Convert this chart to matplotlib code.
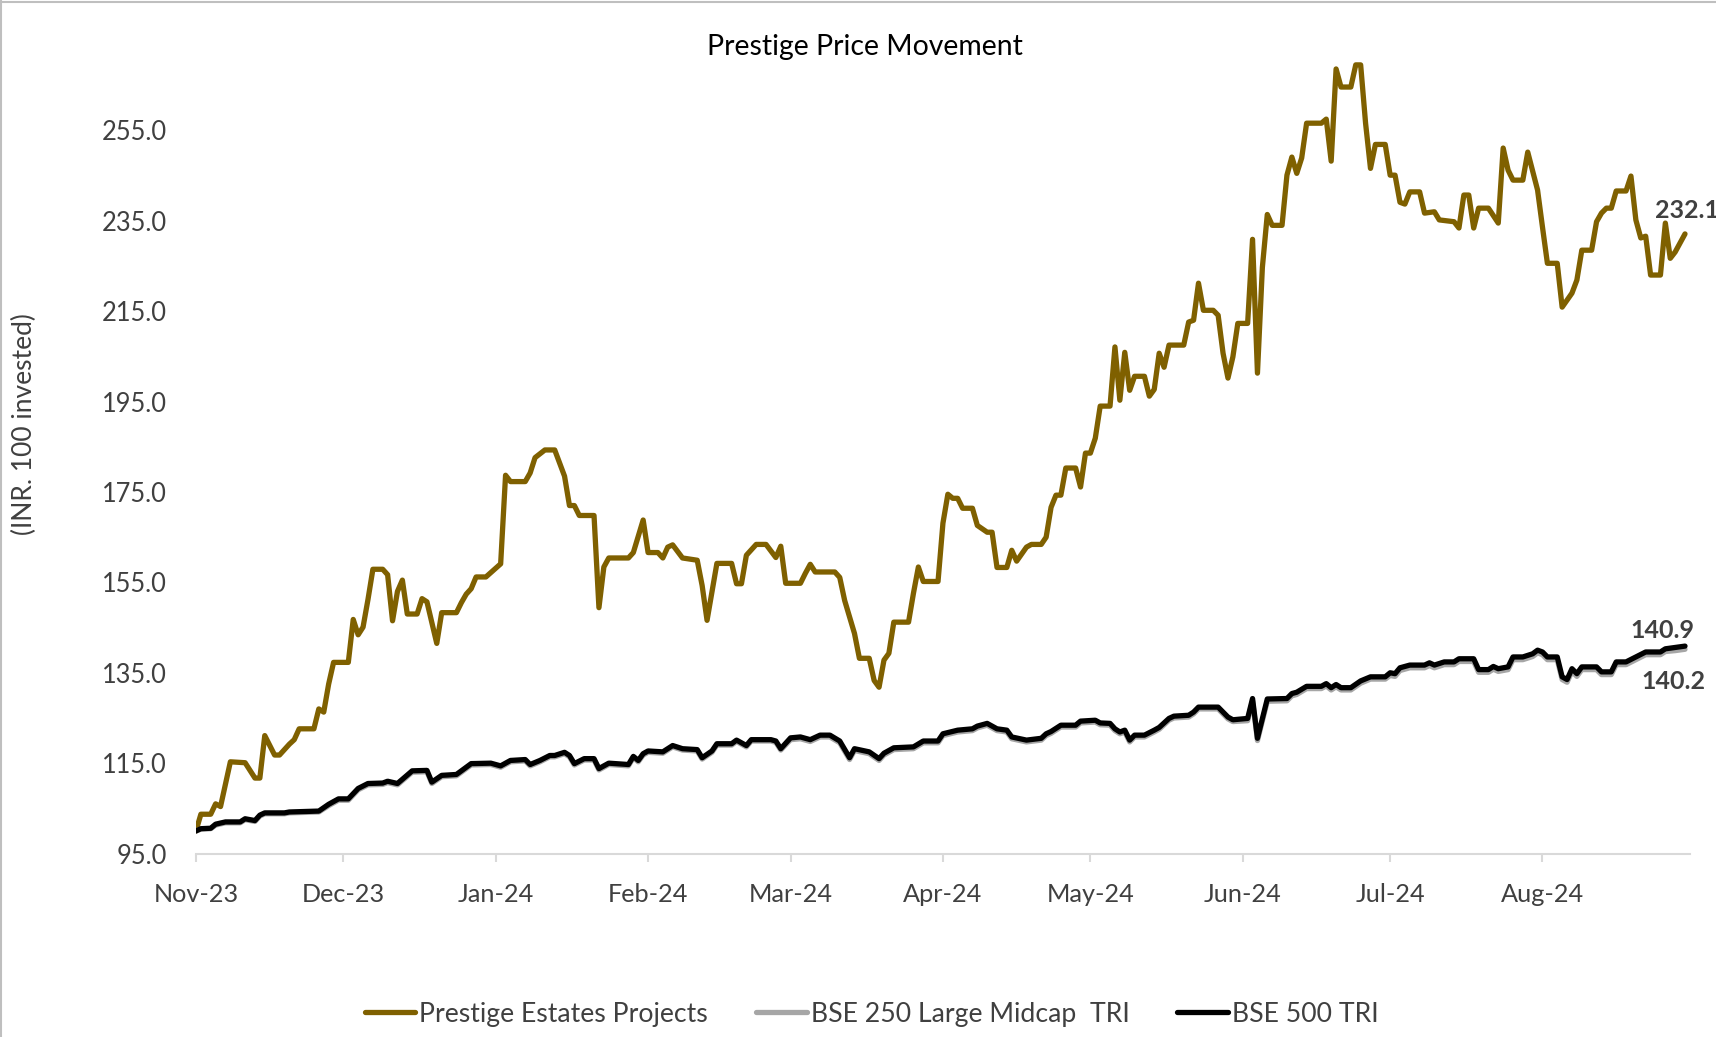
import matplotlib
matplotlib.use("Agg")
import matplotlib.pyplot as plt
import matplotlib.ticker as mticker
from matplotlib.lines import Line2D
import pandas as pd

plt.rcParams['font.family'] = ['Lato', 'DejaVu Sans']

# --- data (INR 100 invested) ---
prestige_dates = [
    "2023-11-01", "2023-11-02", "2023-11-04", "2023-11-05", "2023-11-06", "2023-11-08", "2023-11-11", "2023-11-13", "2023-11-14", "2023-11-15",
    "2023-11-17", "2023-11-18", "2023-11-20", "2023-11-21", "2023-11-22", "2023-11-25", "2023-11-26", "2023-11-27", "2023-11-28", "2023-11-29",
    "2023-12-02", "2023-12-03", "2023-12-04", "2023-12-05", "2023-12-06", "2023-12-07", "2023-12-09", "2023-12-10", "2023-12-11", "2023-12-12",
    "2023-12-13", "2023-12-14", "2023-12-16", "2023-12-17", "2023-12-18", "2023-12-20", "2023-12-21", "2023-12-24", "2023-12-25", "2023-12-26",
    "2023-12-27", "2023-12-28", "2023-12-30",
    "2024-01-02", "2024-01-03", "2024-01-04", "2024-01-07", "2024-01-08", "2024-01-09", "2024-01-11", "2024-01-13", "2024-01-15", "2024-01-16",
    "2024-01-17", "2024-01-18", "2024-01-21", "2024-01-22", "2024-01-23", "2024-01-24", "2024-01-28", "2024-01-29", "2024-01-31",
    "2024-02-01", "2024-02-03", "2024-02-04", "2024-02-05", "2024-02-06", "2024-02-08", "2024-02-11", "2024-02-12", "2024-02-13", "2024-02-15",
    "2024-02-18", "2024-02-19", "2024-02-20", "2024-02-21", "2024-02-23", "2024-02-25", "2024-02-27", "2024-02-28", "2024-02-29",
    "2024-03-03", "2024-03-04", "2024-03-05", "2024-03-06", "2024-03-10", "2024-03-11", "2024-03-12", "2024-03-14", "2024-03-15", "2024-03-17",
    "2024-03-18", "2024-03-19", "2024-03-20", "2024-03-21", "2024-03-22", "2024-03-25", "2024-03-26", "2024-03-27", "2024-03-28", "2024-03-31",
    "2024-04-01", "2024-04-02", "2024-04-03", "2024-04-04", "2024-04-05", "2024-04-07", "2024-04-08", "2024-04-10", "2024-04-11", "2024-04-12",
    "2024-04-14", "2024-04-15", "2024-04-16", "2024-04-18", "2024-04-19", "2024-04-21", "2024-04-22", "2024-04-23", "2024-04-24", "2024-04-25",
    "2024-04-26", "2024-04-28", "2024-04-29", "2024-04-30",
    "2024-05-01", "2024-05-02", "2024-05-03", "2024-05-05", "2024-05-06", "2024-05-07", "2024-05-08", "2024-05-09", "2024-05-10", "2024-05-12",
    "2024-05-13", "2024-05-14", "2024-05-15", "2024-05-16", "2024-05-17", "2024-05-20", "2024-05-21", "2024-05-22", "2024-05-23", "2024-05-24",
    "2024-05-26", "2024-05-27", "2024-05-28", "2024-05-29", "2024-05-30", "2024-05-31",
    "2024-06-02", "2024-06-03", "2024-06-04", "2024-06-05", "2024-06-06", "2024-06-07", "2024-06-09", "2024-06-10", "2024-06-11", "2024-06-12",
    "2024-06-13", "2024-06-14", "2024-06-17", "2024-06-18", "2024-06-19", "2024-06-20", "2024-06-21", "2024-06-23", "2024-06-24", "2024-06-25",
    "2024-06-26", "2024-06-27", "2024-06-28", "2024-06-30",
    "2024-07-01", "2024-07-02", "2024-07-03", "2024-07-04", "2024-07-05", "2024-07-07", "2024-07-08", "2024-07-10", "2024-07-11", "2024-07-14",
    "2024-07-15", "2024-07-16", "2024-07-17", "2024-07-18", "2024-07-19", "2024-07-21", "2024-07-23", "2024-07-24", "2024-07-25", "2024-07-26",
    "2024-07-28", "2024-07-29", "2024-07-31",
    "2024-08-01", "2024-08-02", "2024-08-04", "2024-08-05", "2024-08-07", "2024-08-08", "2024-08-09", "2024-08-11", "2024-08-12", "2024-08-13",
    "2024-08-14", "2024-08-15", "2024-08-16", "2024-08-18", "2024-08-19", "2024-08-20", "2024-08-21", "2024-08-22", "2024-08-23", "2024-08-25",
    "2024-08-26", "2024-08-27", "2024-08-28", "2024-08-30",
]
prestige_vals = [
    100.0, 103.7, 103.7, 106.0, 105.4, 115.3, 115.1, 111.7, 111.7, 121.1, 116.8, 116.8, 119.2, 120.2, 122.6, 122.6, 127.0, 126.3, 132.5, 137.3,
    137.3, 146.8, 143.4, 145.1, 151.2, 157.9, 157.9, 156.7, 146.5, 153.0, 155.5, 148.0, 148.0, 151.4, 150.7, 141.5, 148.3, 148.3, 150.5, 152.4,
    153.6, 156.2, 156.2,
    159.1, 178.7, 177.3, 177.3, 179.2, 182.6, 184.3, 184.3, 178.5, 172.0, 172.0, 169.8, 169.8, 149.4, 158.4, 160.4, 160.4, 161.6, 168.8,
    161.6, 161.6, 160.4, 162.8, 163.3, 160.4, 159.9, 154.3, 146.6, 159.2, 159.2, 154.7, 154.7, 161.0, 163.4, 163.4, 160.5, 163.0, 154.8,
    154.8, 157.0, 159.0, 157.3, 157.3, 156.1, 151.0, 143.7, 138.2, 138.2, 133.3, 131.8, 137.8, 139.3, 146.2, 146.2, 152.6, 158.4, 155.2, 155.2,
    168.1, 174.5, 173.6, 173.6, 171.4, 171.4, 167.6, 166.1, 166.1, 158.3, 158.3, 162.1, 159.7, 162.8, 163.4, 163.4, 165.0, 171.6, 174.3, 174.3,
    180.3, 180.3, 176.1, 183.6,
    183.6, 186.9, 194.0, 194.0, 207.1, 195.3, 205.9, 197.5, 200.6, 200.6, 196.2, 197.7, 205.7, 202.6, 207.5, 207.5, 212.6, 213.0, 221.2, 215.2,
    215.2, 214.1, 205.7, 200.2, 204.9, 212.3,
    212.3, 230.9, 201.3, 224.7, 236.4, 234.0, 234.0, 245.1, 249.1, 245.5, 248.9, 256.6, 256.6, 257.5, 248.2, 268.6, 264.6, 264.6, 269.5, 269.5,
    256.6, 246.6, 251.9, 251.9,
    245.1, 245.1, 239.1, 238.7, 241.4, 241.4, 236.7, 237.0, 235.2, 234.8, 233.4, 240.7, 240.7, 233.4, 237.8, 237.8, 234.5, 251.1, 246.2, 244.0,
    244.0, 250.2, 241.8,
    233.6, 225.6, 225.6, 215.9, 219.0, 221.9, 228.5, 228.5, 234.8, 236.7, 237.8, 237.8, 241.6, 241.6, 244.9, 235.2, 231.2, 231.6, 223.0, 223.0,
    234.5, 226.7, 228.1, 232.1,
]

index_dates = [
    "2023-11-01", "2023-11-02", "2023-11-04", "2023-11-05", "2023-11-07", "2023-11-10", "2023-11-11", "2023-11-13", "2023-11-14", "2023-11-15",
    "2023-11-19", "2023-11-20", "2023-11-26", "2023-11-28", "2023-11-30",
    "2023-12-02", "2023-12-04", "2023-12-06", "2023-12-09", "2023-12-10", "2023-12-12", "2023-12-15", "2023-12-18", "2023-12-19", "2023-12-21",
    "2023-12-24", "2023-12-27", "2023-12-31",
    "2024-01-02", "2024-01-04", "2024-01-07", "2024-01-08", "2024-01-10", "2024-01-12", "2024-01-13", "2024-01-15", "2024-01-16", "2024-01-17",
    "2024-01-19", "2024-01-21", "2024-01-22", "2024-01-24", "2024-01-28", "2024-01-29", "2024-01-30", "2024-01-31",
    "2024-02-01", "2024-02-04", "2024-02-06", "2024-02-08", "2024-02-11", "2024-02-12", "2024-02-14", "2024-02-15", "2024-02-18", "2024-02-19",
    "2024-02-21", "2024-02-22", "2024-02-26", "2024-02-27", "2024-02-28",
    "2024-03-01", "2024-03-03", "2024-03-05", "2024-03-07", "2024-03-09", "2024-03-11", "2024-03-13", "2024-03-14", "2024-03-17", "2024-03-19",
    "2024-03-20", "2024-03-22", "2024-03-26", "2024-03-28", "2024-03-31",
    "2024-04-01", "2024-04-04", "2024-04-07", "2024-04-08", "2024-04-10", "2024-04-12", "2024-04-14", "2024-04-15", "2024-04-18", "2024-04-21",
    "2024-04-22", "2024-04-23", "2024-04-25", "2024-04-28", "2024-04-29",
    "2024-05-02", "2024-05-03", "2024-05-05", "2024-05-06", "2024-05-07", "2024-05-08", "2024-05-09", "2024-05-10", "2024-05-12", "2024-05-14",
    "2024-05-15", "2024-05-17", "2024-05-18", "2024-05-21", "2024-05-22", "2024-05-23", "2024-05-27", "2024-05-28", "2024-05-29", "2024-05-30",
    "2024-06-02", "2024-06-03", "2024-06-04", "2024-06-05", "2024-06-06", "2024-06-10", "2024-06-11", "2024-06-12", "2024-06-14", "2024-06-17",
    "2024-06-18", "2024-06-19", "2024-06-20", "2024-06-21", "2024-06-23", "2024-06-25", "2024-06-27", "2024-06-30",
    "2024-07-01", "2024-07-02", "2024-07-03", "2024-07-05", "2024-07-08", "2024-07-09", "2024-07-10", "2024-07-12", "2024-07-14", "2024-07-15",
    "2024-07-18", "2024-07-19", "2024-07-21", "2024-07-22", "2024-07-23", "2024-07-25", "2024-07-26", "2024-07-28", "2024-07-30", "2024-07-31",
    "2024-08-01", "2024-08-02", "2024-08-04", "2024-08-05", "2024-08-06", "2024-08-07", "2024-08-08", "2024-08-09", "2024-08-12", "2024-08-13",
    "2024-08-15", "2024-08-16", "2024-08-18", "2024-08-20", "2024-08-22", "2024-08-25", "2024-08-26", "2024-08-28", "2024-08-30",
]
bse500_vals = [
    100.0, 100.5, 100.6, 101.5, 102.0, 102.0, 102.7, 102.3, 103.5, 104.0, 104.0, 104.2, 104.4, 105.9, 107.1,
    107.1, 109.4, 110.5, 110.6, 111.0, 110.5, 113.3, 113.4, 110.8, 112.3, 112.5, 114.9, 115.0,
    114.4, 115.6, 115.8, 114.7, 115.6, 116.7, 116.7, 117.4, 116.7, 114.9, 116.0, 116.0, 113.8, 115.0, 114.7, 116.5, 115.6, 117.1,
    117.7, 117.5, 118.9, 118.2, 118.0, 116.2, 117.7, 119.3, 119.3, 120.1, 118.9, 120.2, 120.2, 119.9, 118.2,
    120.6, 120.8, 120.2, 121.2, 121.2, 119.9, 116.2, 118.2, 117.5, 116.0, 117.2, 118.4, 118.6, 119.9, 119.9,
    121.5, 122.3, 122.6, 123.2, 123.8, 122.6, 122.3, 120.8, 120.1, 120.5, 121.5, 122.0, 123.4, 123.4, 124.3,
    124.5, 123.9, 123.8, 122.6, 121.9, 122.3, 120.1, 121.2, 121.2, 122.3, 122.9, 124.9, 125.4, 125.6, 126.3, 127.4, 127.4, 126.3, 125.2, 124.6,
    124.9, 129.3, 120.5, 124.9, 129.2, 129.3, 130.4, 130.7, 132.0, 132.0, 132.6, 131.7, 132.4, 131.7, 131.7, 133.2, 134.1, 134.1,
    135.0, 134.8, 136.1, 136.7, 136.7, 137.2, 136.7, 137.4, 137.4, 138.1, 138.1, 135.7, 135.7, 136.4, 135.9, 136.3, 138.5, 138.5, 139.2, 140.0,
    139.6, 138.5, 138.5, 134.1, 133.5, 135.9, 134.8, 136.3, 136.3, 135.2, 135.2, 137.4, 137.4, 138.5, 139.6, 139.6, 140.3, 140.6, 140.9,
]
bse250_vals = [
    100.0, 100.4, 100.5, 101.3, 101.8, 101.8, 102.5, 102.1, 103.3, 103.8, 103.8, 104.0, 104.2, 105.6, 106.8,
    106.8, 109.1, 110.2, 110.3, 110.7, 110.2, 113.0, 113.1, 110.5, 112.0, 112.2, 114.6, 114.7,
    114.1, 115.3, 115.5, 114.4, 115.3, 116.4, 116.4, 117.1, 116.4, 114.6, 115.7, 115.7, 113.5, 114.7, 114.4, 116.2, 115.3, 116.8,
    117.4, 117.2, 118.6, 117.9, 117.7, 115.9, 117.4, 119.0, 119.0, 119.8, 118.6, 119.9, 119.9, 119.6, 117.9,
    120.2, 120.4, 119.8, 120.8, 120.8, 119.5, 115.8, 117.8, 117.1, 115.6, 116.8, 118.0, 118.2, 119.5, 119.5,
    121.1, 121.9, 122.2, 122.8, 123.4, 122.2, 121.9, 120.4, 119.7, 120.1, 121.1, 121.6, 123.0, 123.0, 123.9,
    124.1, 123.5, 123.4, 122.2, 121.5, 121.9, 119.7, 120.8, 120.8, 121.9, 122.5, 124.5, 125.0, 125.2, 125.9, 127.0, 127.0, 125.9, 124.8, 124.2,
    124.4, 128.8, 120.0, 124.4, 128.7, 128.8, 129.9, 130.2, 131.5, 131.5, 132.1, 131.2, 131.9, 131.2, 131.2, 132.7, 133.6, 133.6,
    134.4, 134.2, 135.5, 136.1, 136.1, 136.6, 136.1, 136.8, 136.8, 137.5, 137.5, 135.1, 135.1, 135.8, 135.3, 135.7, 137.9, 137.9, 138.6, 139.4,
    139.0, 137.9, 137.9, 133.5, 132.9, 135.3, 134.2, 135.7, 135.7, 134.6, 134.6, 136.8, 136.8, 137.9, 139.0, 139.0, 139.7, 139.9, 140.2,
]

series_names = ["Prestige Estates Projects", "BSE 250 Large Midcap  TRI", "BSE 500 TRI"]
series_colors = ["#7F6000", "#A6A6A6", "#000000"]
y_ticks = [95, 115, 135, 155, 175, 195, 215, 235, 255]
month_ticks = pd.date_range("2023-11-01", "2024-08-01", freq="MS")

text_grey = "#404040"

fig = plt.figure(figsize=(17.16, 10.37), dpi=100)
ax = fig.add_axes([0.1142, 0.1769, 0.8706, 0.7845])

p_dates = pd.to_datetime(prestige_dates)
i_dates = pd.to_datetime(index_dates)

line_kw = dict(lw=3.8, solid_capstyle="round", solid_joinstyle="round")
ax.plot(p_dates, prestige_vals, color=series_colors[0], label=series_names[0], **line_kw)
ax.plot(i_dates, bse250_vals, color=series_colors[1], label=series_names[1], **line_kw)
ax.plot(i_dates, bse500_vals, color=series_colors[2], label=series_names[2], **line_kw)

ax.set_xlim(pd.Timestamp("2023-11-01"), pd.Timestamp("2024-08-31"))
ax.set_ylim(95, 275)
ax.set_yticks(y_ticks)
ax.yaxis.set_major_formatter(mticker.FormatStrFormatter("%.1f"))
ax.set_xticks(month_ticks)
ax.set_xticklabels([d.strftime("%b-%y") for d in month_ticks])

for side in ["top", "right", "left"]:
    ax.spines[side].set_visible(False)
ax.spines["bottom"].set_color("#D9D9D9")
ax.spines["bottom"].set_linewidth(1.5)
ax.tick_params(axis="x", length=6, width=1.5, color="#D9D9D9", pad=15,
               labelsize=18.2, labelcolor=text_grey)
ax.tick_params(axis="y", length=0, pad=21, labelsize=18.4, labelcolor=text_grey)

# end-of-series value labels
ax.annotate(f"{prestige_vals[-1]:.1f}", xy=(p_dates[-1], prestige_vals[-1]), xytext=(1.5, 17),
            textcoords="offset points", ha="center", va="center",
            fontsize=18, fontweight="bold", color=text_grey, annotation_clip=False)
ax.annotate(f"{bse500_vals[-1]:.1f}", xy=(i_dates[-1], bse500_vals[-1]), xytext=(-16.5, 11.5),
            textcoords="offset points", ha="center", va="center",
            fontsize=18, fontweight="bold", color=text_grey, annotation_clip=False)
ax.annotate(f"{bse250_vals[-1]:.1f}", xy=(i_dates[-1], bse250_vals[-1]), xytext=(-8, -23.5),
            textcoords="offset points", ha="center", va="center",
            fontsize=18, fontweight="bold", color=text_grey, annotation_clip=False)

fig.text(0.504, 0.955, "Prestige Price Movement", ha="center", va="center",
         fontsize=20.4, color="black")
fig.text(0.014, 0.591, "(INR. 100 invested)", rotation=90, ha="center", va="center",
         fontsize=19, color=text_grey)

fig.legend(loc="center", bbox_to_anchor=(0.508, 0.022), ncol=3, frameon=False,
           fontsize=19.2, handlelength=1.9, handletextpad=0.15, columnspacing=1.8,
           labelcolor=text_grey)

# light chart border (left and top edges visible in the reference)
fig.add_artist(Line2D([0.0008, 0.0008], [0, 1], transform=fig.transFigure, color="#BFBFBF", lw=1.5))
fig.add_artist(Line2D([0, 1], [0.998, 0.998], transform=fig.transFigure, color="#BFBFBF", lw=1.5))

fig.savefig("out.png", dpi=100)
